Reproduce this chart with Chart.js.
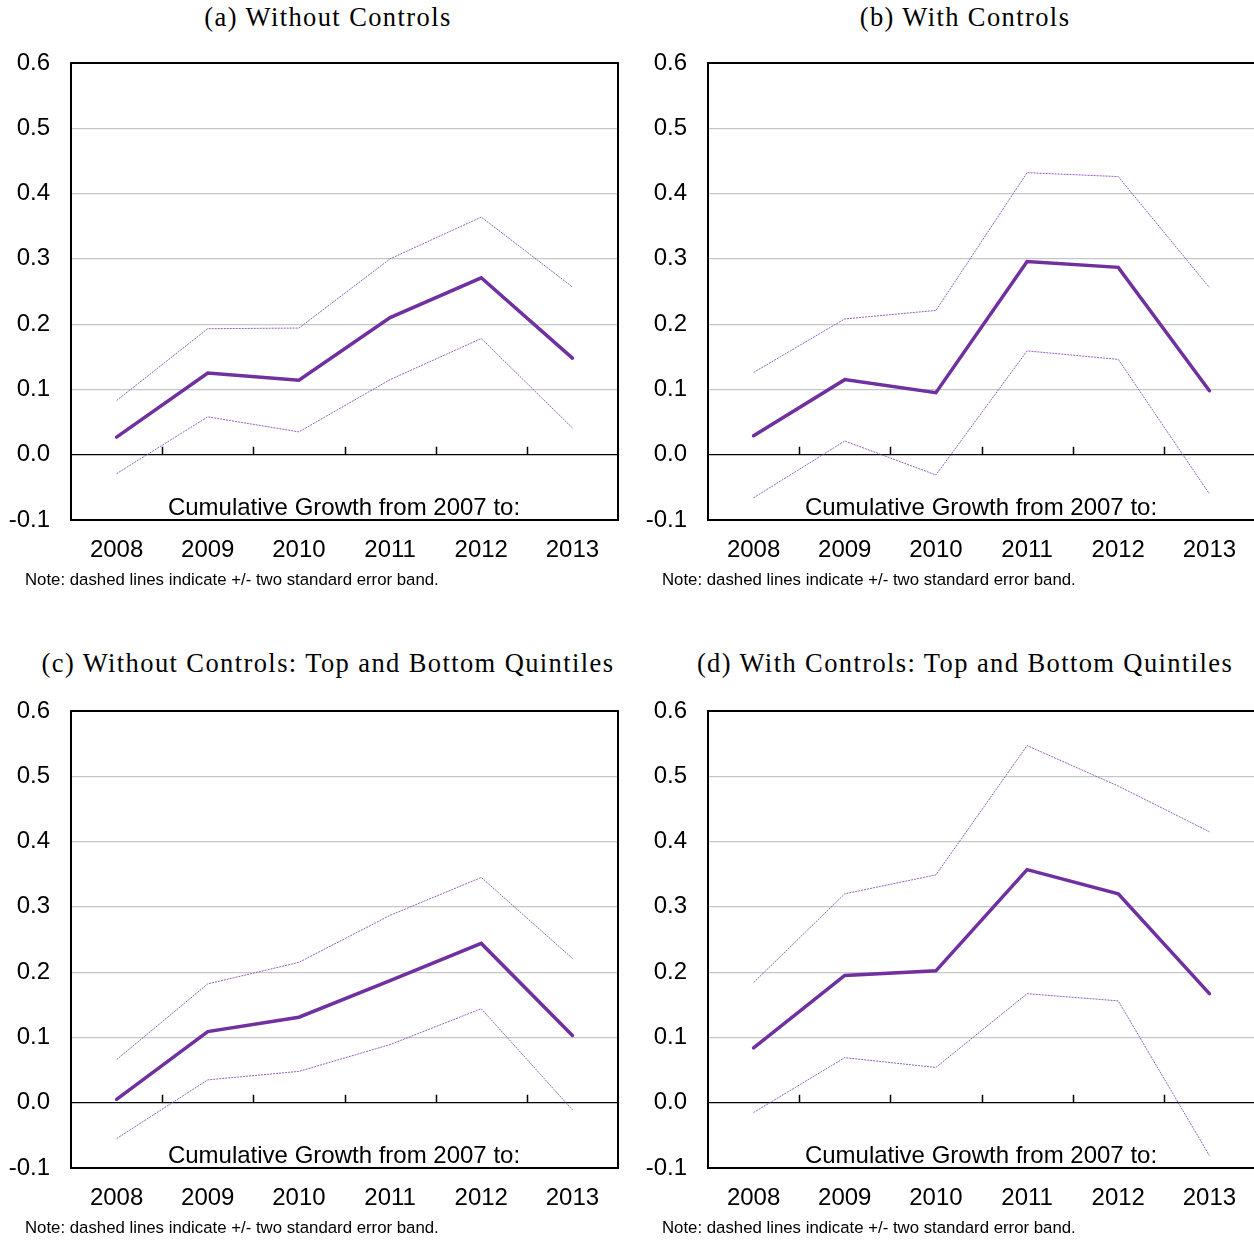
<!DOCTYPE html>
<html>
<head>
<meta charset="utf-8">
<script src="https://cdn.jsdelivr.net/npm/chart.js@4.4.1/dist/chart.umd.min.js"></script>
<style>
  html, body { margin: 0; padding: 0; background: #fff; }
  body { width: 1254px; height: 1241px; position: relative; overflow: hidden; }
  .wrap { position: absolute; width: 630px; height: 540px; }
  .title {
    position: absolute; transform: translateX(-50%); white-space: nowrap;
    font-family: "Liberation Serif", "Times New Roman", serif; font-size: 26.5px;
    letter-spacing: 1.4px; color: #000; line-height: 1;
  }
  .inner {
    position: absolute; transform: translateX(-50%); white-space: nowrap;
    font-family: "Liberation Sans", Arial, sans-serif; font-size: 24px; color: #000; line-height: 1;
  }
  .note {
    position: absolute; white-space: nowrap;
    font-family: "Liberation Sans", Arial, sans-serif; font-size: 16.8px; color: #000; line-height: 1;
  }
</style>
</head>
<body>

<div class="title" style="left:328px; top:4px;">(a) Without Controls</div>
<div class="title" style="left:965px; top:4px;">(b) With Controls</div>
<div class="title" style="left:328px; top:650px;">(c) Without Controls: Top and Bottom Quintiles</div>
<div class="title" style="left:965px; top:650px;">(d) With Controls: Top and Bottom Quintiles</div>

<div class="wrap" style="left:0px; top:40px;"><canvas id="chartA"></canvas></div>
<div class="wrap" style="left:637px; top:40px;"><canvas id="chartB"></canvas></div>
<div class="wrap" style="left:0px; top:688px;"><canvas id="chartC"></canvas></div>
<div class="wrap" style="left:637px; top:688px;"><canvas id="chartD"></canvas></div>

<div class="inner" style="left:344px; top:495px;">Cumulative Growth from 2007 to:</div>
<div class="inner" style="left:981px; top:495px;">Cumulative Growth from 2007 to:</div>
<div class="inner" style="left:344px; top:1143px;">Cumulative Growth from 2007 to:</div>
<div class="inner" style="left:981px; top:1143px;">Cumulative Growth from 2007 to:</div>

<div class="note" style="left:25px; top:572px;">Note: dashed lines indicate +/- two standard error band.</div>
<div class="note" style="left:662px; top:572px;">Note: dashed lines indicate +/- two standard error band.</div>
<div class="note" style="left:25px; top:1220px;">Note: dashed lines indicate +/- two standard error band.</div>
<div class="note" style="left:662px; top:1220px;">Note: dashed lines indicate +/- two standard error band.</div>

<script>
// categories and tick labels
const years = ["2008", "2009", "2010", "2011", "2012", "2013"];
const yTicks = [-0.1, 0.0, 0.1, 0.2, 0.3, 0.4, 0.5, 0.6];

// (a) without controls
const aMain  = [0.027, 0.125, 0.114, 0.210, 0.271, 0.148];
const aUpper = [0.083, 0.193, 0.194, 0.300, 0.364, 0.257];
const aLower = [-0.029, 0.058, 0.035, 0.115, 0.178, 0.041];

// (b) with controls
const bMain  = [0.029, 0.115, 0.095, 0.296, 0.287, 0.098];
const bUpper = [0.126, 0.208, 0.221, 0.432, 0.426, 0.256];
const bLower = [-0.066, 0.021, -0.031, 0.159, 0.146, -0.060];

// (c) without controls, top and bottom quintiles
const cMain  = [0.005, 0.109, 0.131, 0.187, 0.244, 0.103];
const cUpper = [0.066, 0.182, 0.215, 0.287, 0.345, 0.221];
const cLower = [-0.055, 0.035, 0.048, 0.089, 0.144, -0.011];

// (d) with controls, top and bottom quintiles
const dMain  = [0.084, 0.195, 0.202, 0.357, 0.320, 0.167];
const dUpper = [0.184, 0.320, 0.349, 0.547, 0.485, 0.415];
const dLower = [-0.015, 0.069, 0.054, 0.167, 0.156, -0.081];

Chart.defaults.font.family = '"Liberation Sans", Arial, sans-serif';
Chart.defaults.font.size = 24;
Chart.defaults.color = "#000";

const mainColor = "#7030a0";
const bandColor = "rgba(130, 80, 190, 0.9)";

// box around the plot area and the little ticks on the zero line
const framePlugin = {
  id: "frame",
  afterDatasetsDraw(chart) {
    const { ctx, chartArea, scales } = chart;
    const x = scales.x, y = scales.y;
    const y0 = y.getPixelForValue(0);
    ctx.save();
    ctx.strokeStyle = "#000";
    ctx.lineWidth = 1.5;
    ctx.beginPath();
    for (let i = 0; i < years.length - 1; i++) {
      const px = Math.round((x.getPixelForValue(i) + x.getPixelForValue(i + 1)) / 2) + 0.5;
      ctx.moveTo(px, y0);
      ctx.lineTo(px, y0 - 8);
    }
    ctx.stroke();
    ctx.lineWidth = 2;
    ctx.strokeRect(chartArea.left, chartArea.top, chartArea.right - chartArea.left, chartArea.bottom - chartArea.top);
    ctx.restore();
  },
};

function makeChart(id, main, upper, lower) {
  const ctx = document.getElementById(id).getContext("2d");
  new Chart(ctx, {
    type: "line",
    data: {
      labels: years,
      datasets: [
        {
          label: "Estimate",
          data: main,
          borderColor: mainColor,
          borderWidth: 3.5,
          pointRadius: 0,
          tension: 0,
          borderCapStyle: "round",
        },
        {
          label: "Upper band",
          data: upper,
          borderColor: bandColor,
          borderWidth: 1,
          borderDash: [2, 1],
          pointRadius: 0,
          tension: 0,
        },
        {
          label: "Lower band",
          data: lower,
          borderColor: bandColor,
          borderWidth: 1,
          borderDash: [2, 1],
          pointRadius: 0,
          tension: 0,
        },
      ],
    },
    options: {
      responsive: true,
      maintainAspectRatio: false,
      animation: false,
      layout: { padding: { top: 23, right: 12, left: 0, bottom: 0 } },
      plugins: {
        legend: { display: false },
        tooltip: { enabled: false },
      },
      scales: {
        x: {
          offset: true,
          grid: { display: false, drawTicks: false },
          border: { display: false },
          ticks: { padding: 16, maxRotation: 0, font: { size: 24 } },
          afterFit(scale) {
            scale.height = 60;
            scale.paddingLeft = 0;
            scale.paddingRight = 0;
          },
        },
        y: {
          min: -0.1,
          max: 0.6,
          afterBuildTicks(axis) { axis.ticks = yTicks.map((v) => ({ value: v })); },
          grid: {
            drawTicks: false,
            lineWidth: 1.2,
            color: (c) => (Math.abs(c.tick.value) < 1e-9 ? "#000" : "#c6c6c6"),
          },
          border: { display: false },
          ticks: {
            padding: 21,
            font: { size: 24 },
            callback: (v) => Number(v).toFixed(1),
          },
          afterFit(scale) {
            scale.width = 71;
            scale.paddingTop = 0;
            scale.paddingBottom = 0;
          },
        },
      },
    },
    plugins: [framePlugin],
  });
}

makeChart("chartA", aMain, aUpper, aLower);
makeChart("chartB", bMain, bUpper, bLower);
makeChart("chartC", cMain, cUpper, cLower);
makeChart("chartD", dMain, dUpper, dLower);
</script>
</body>
</html>
